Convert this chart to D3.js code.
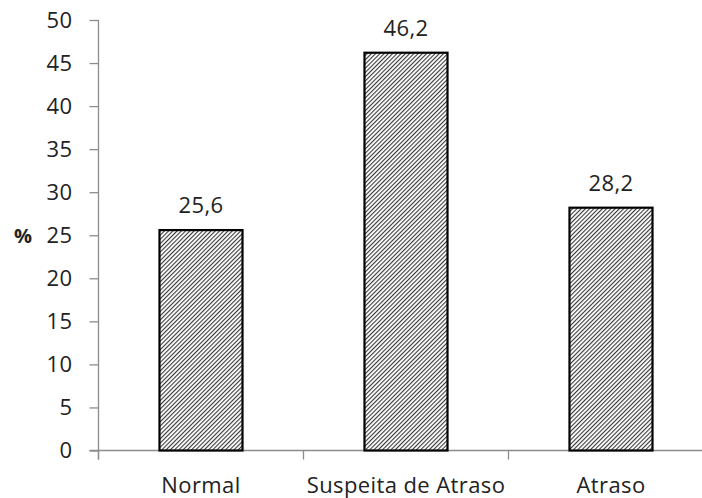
<!DOCTYPE html>
<html>
<head>
<meta charset="utf-8">
<script src="https://cdn.jsdelivr.net/npm/d3@7"></script>
<style>
  html, body { margin: 0; padding: 0; background: #fff; }
  svg { display: block; }
  text { font-family: "Open Sans", Lato, sans-serif; fill: #222; letter-spacing: 0.4px; }
</style>
</head>
<body>
<svg id="chart" width="702" height="498"></svg>
<script>
// Distribution of the classification (percent)
const categories = ["Normal", "Suspeita de Atraso", "Atraso"];
const values = [25.6, 46.2, 28.2];
const valueLabels = ["25,6", "46,2", "28,2"];
const yTicks = [0, 5, 10, 15, 20, 25, 30, 35, 40, 45, 50];

const svg = d3.select("#chart");
const mLeft = 98.5, mTop = 20, mBottom = 450.5;
const step = 205;
const barRatio = 0.405;
const fontSize = "22px";

const x = d3.scaleBand()
  .domain(categories)
  .range([mLeft, mLeft + step * categories.length])
  .padding(0);
const y = d3.scaleLinear().domain([0, 50]).range([mBottom, mTop]);
const barW = x.bandwidth() * barRatio;
const cx = d => x(d) + x.bandwidth() / 2;

// diagonal hatch fill
const defs = svg.append("defs");
const pat = defs.append("pattern")
  .attr("id", "hatch")
  .attr("patternUnits", "userSpaceOnUse")
  .attr("width", 3).attr("height", 3)
  .attr("patternTransform", "rotate(45)");
pat.append("rect").attr("width", 3).attr("height", 3).attr("fill", "#fff");
pat.append("line").attr("x1", 0.6).attr("y1", 0).attr("x2", 0.6).attr("y2", 3)
  .attr("stroke", "#222").attr("stroke-width", 1);

// y axis
const yAxis = d3.axisLeft(y).tickValues(yTicks).tickSize(9).tickPadding(17);
const gy = svg.append("g").attr("transform", `translate(${mLeft},0)`).call(yAxis);
gy.select(".domain").attr("stroke", "#8c8c8c").attr("stroke-width", 1.3).attr("d", `M0,${mTop}V${mBottom + 9}`);
gy.selectAll(".tick line").attr("stroke", "#8c8c8c").attr("stroke-width", 1.3);
gy.selectAll(".tick text")
  .style("font-size", fontSize)
  .style("font-family", "'Open Sans', sans-serif")
  .attr("fill", "#222");

// x axis with ticks at band boundaries
const xAxisG = svg.append("g");
xAxisG.append("line")
  .attr("x1", mLeft - 9).attr("x2", 702)
  .attr("y1", mBottom).attr("y2", mBottom)
  .attr("stroke", "#8c8c8c").attr("stroke-width", 1.3);
xAxisG.selectAll("line.tk")
  .data(categories)
  .join("line")
  .attr("class", "tk")
  .attr("x1", d => x(d)).attr("x2", d => x(d))
  .attr("y1", mBottom).attr("y2", mBottom + 9)
  .attr("stroke", "#8c8c8c").attr("stroke-width", 1.3);

// bars
svg.selectAll("rect.bar")
  .data(values)
  .join("rect")
  .attr("class", "bar")
  .attr("x", (d, i) => cx(categories[i]) - barW / 2)
  .attr("y", d => y(d))
  .attr("width", barW)
  .attr("height", d => y(0) - y(d))
  .attr("fill", "url(#hatch)")
  .attr("stroke", "#000")
  .attr("stroke-width", 2.2);

// value labels
svg.selectAll("text.val")
  .data(values)
  .join("text")
  .attr("class", "val")
  .attr("x", (d, i) => cx(categories[i]))
  .attr("y", d => y(d) - 17)
  .attr("text-anchor", "middle")
  .style("font-size", fontSize)
  .text((d, i) => valueLabels[i]);

// category labels
svg.selectAll("text.cat")
  .data(categories)
  .join("text")
  .attr("class", "cat")
  .attr("x", d => cx(d))
  .attr("y", 493)
  .attr("text-anchor", "middle")
  .style("font-size", fontSize)
  .text(d => d);

// y title
svg.append("text")
  .attr("x", 14).attr("y", 243)
  .style("font-size", "20px")
  .style("font-weight", "bold")
  .style("letter-spacing", "0")
  .text("%");
</script>
</body>
</html>
